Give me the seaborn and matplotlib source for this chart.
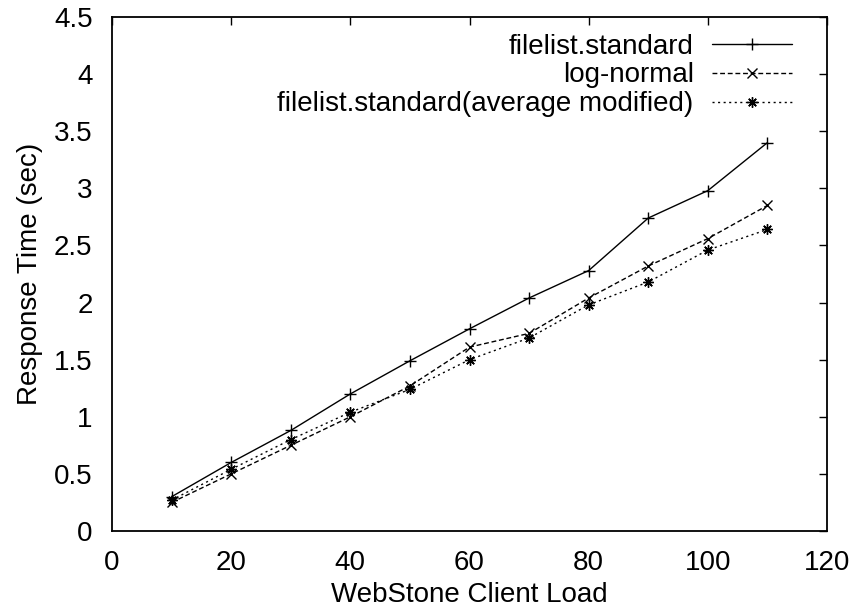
import matplotlib
matplotlib.use("Agg")
import matplotlib.pyplot as plt
import seaborn as sns
import pandas as pd

# WebStone client load levels and measured response times (seconds)
load = [10, 20, 30, 40, 50, 60, 70, 80, 90, 100, 110]
standard = [0.30, 0.60, 0.88, 1.20, 1.49, 1.77, 2.04, 2.28, 2.74, 2.98, 3.40]
lognormal = [0.25, 0.50, 0.75, 1.00, 1.27, 1.61, 1.73, 2.04, 2.32, 2.56, 2.85]
avg_modified = [0.27, 0.54, 0.80, 1.04, 1.24, 1.50, 1.69, 1.98, 2.18, 2.46, 2.64]

labels = ["filelist.standard", "log-normal", "filelist.standard(average modified)"]
x_ticks = [0, 20, 40, 60, 80, 100, 120]
y_ticks = [0, 0.5, 1, 1.5, 2, 2.5, 3, 3.5, 4, 4.5]

sns.set_theme(style="white")
plt.rcParams["font.family"] = ["Liberation Sans", "DejaVu Sans"]
plt.rcParams["text.color"] = "black"
plt.rcParams["axes.labelcolor"] = "black"
plt.rcParams["xtick.color"] = "black"
plt.rcParams["ytick.color"] = "black"

fig = plt.figure(figsize=(8.57, 6.11), dpi=100)
ax = fig.add_axes([112 / 857, 1 - 531 / 611, (827 - 112) / 857, (531 - 17) / 611])

styles = [
    dict(linestyle="-", marker="+", markersize=8),
    dict(linestyle=(0, (3.5, 2)), marker="x", markersize=6.5),
    dict(linestyle=(0, (1.5, 2.5)), marker=(8, 2, 0), markersize=7.5),
]
for values, label, st in zip([standard, lognormal, avg_modified], labels, styles):
    df = pd.DataFrame({"load": load, "time": values})
    sns.lineplot(data=df, x="load", y="time", ax=ax, color="black",
                 linewidth=1.0, markeredgewidth=1.0, markeredgecolor="black",
                 markerfacecolor="black", label=label, **st)

ax.set_xlim(0, 120)
ax.set_ylim(0, 4.5)
ax.set_xticks(x_ticks)
ax.set_xticklabels([str(v) for v in x_ticks])
ax.set_yticks(y_ticks)
ax.set_yticklabels([f"{v:g}" for v in y_ticks])
ax.set_xlabel("WebStone Client Load", fontsize=20, labelpad=4)
ax.set_ylabel("Response Time (sec)", fontsize=20, labelpad=8)

ax.tick_params(axis="both", which="both", direction="in", length=6, width=1,
               top=True, right=True, labelsize=20, colors="black", pad=14)
for sp in ax.spines.values():
    sp.set_visible(True)
    sp.set_color("black")
    sp.set_linewidth(1.3)

leg = ax.legend(loc="upper right", bbox_to_anchor=(1 - 18 / 715, 1),
                frameon=False, markerfirst=False, fontsize=20,
                handlelength=2.9, handletextpad=0.65, labelspacing=0.1,
                borderaxespad=0.3, borderpad=0.3)

fig.savefig("out.png", dpi=100, facecolor="white")
